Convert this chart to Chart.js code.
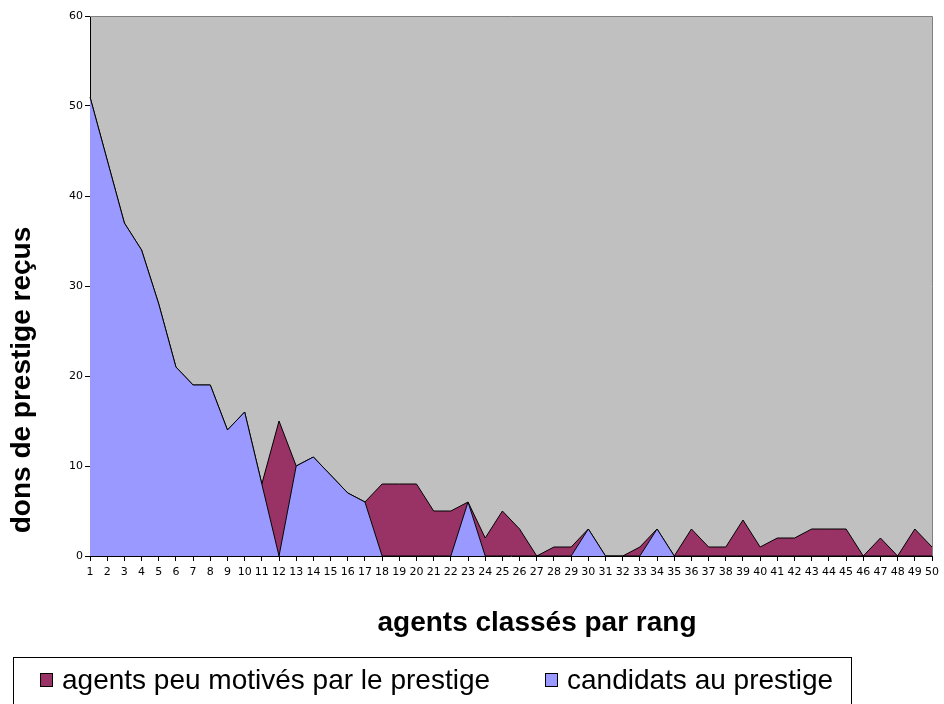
<!DOCTYPE html>
<html>
<head>
<meta charset="utf-8">
<script src="https://cdn.jsdelivr.net/npm/chart.js@4/dist/chart.umd.min.js"></script>
<style>
  html, body { margin: 0; padding: 0; background: #fff; }
  #wrap { width: 944px; height: 704px; }
</style>
</head>
<body>
<div id="wrap"><canvas id="dons" width="944" height="704"></canvas></div>
<script>
// rangs 1..50
var rangs = [];
for (var i = 1; i <= 50; i++) rangs.push(String(i));

// dons reçus par les candidats au prestige (0 pour les autres agents)
var candidats = [51, 44, 37, 34, 28, 21, 19, 19, 14, 16, 8,
    0,
    10, 11, 9, 7, 6,
    0, 0, 0, 0, 0,
    6,
    0, 0, 0, 0, 0, 0,
    3,
    0, 0, 0,
    3,
    0, 0, 0, 0, 0, 0, 0, 0, 0, 0, 0, 0, 0, 0, 0, 0];

// dons reçus par les agents peu motivés (0 pour les candidats)
var peuMotives = [0, 0, 0, 0, 0, 0, 0, 0, 0, 0, 0,
    15,
    0, 0, 0, 0, 0,
    8, 8, 8, 5, 5, 0, 2, 5, 3, 0, 1, 1, 0, 0, 0, 1, 0, 0,
    3, 1, 1, 4, 1, 2, 2, 3, 3, 3, 0, 2, 0, 3, 1];

var yTicks = [0, 10, 20, 30, 40, 50, 60];

const bleu = "#9999FF";
const bordeaux = "#993366";

// fond gris, bords du graphique, titres et légende
var decor = {
    id: 'decor',
    beforeDraw: function(chart) {
        var a = chart.chartArea;
        var ctx = chart.ctx;
        ctx.save();
        ctx.fillStyle = "#C0C0C0";
        ctx.fillRect(a.left, a.top, a.right - a.left, a.bottom - a.top);
        ctx.restore();
    },
    afterDraw: function(chart) {
        var a = chart.chartArea;
        var ctx = chart.ctx;
        ctx.save();
        ctx.strokeStyle = "#808080";
        ctx.lineWidth = 1;
        ctx.beginPath();
        ctx.moveTo(a.left, a.top + 0.5);
        ctx.lineTo(a.right + 0.5, a.top + 0.5);
        ctx.lineTo(a.right + 0.5, a.bottom);
        ctx.stroke();

        ctx.fillStyle = "#000";
        ctx.font = "bold 28px 'Liberation Sans', Arial, sans-serif";
        ctx.textAlign = "center";
        ctx.textBaseline = "middle";
        ctx.fillText("agents classés par rang", 537, 623);

        ctx.save();
        ctx.translate(22, 380);
        ctx.rotate(-Math.PI / 2);
        ctx.fillText("dons de prestige reçus", 0, 0);
        ctx.restore();

        // légende
        ctx.strokeStyle = "#000";
        ctx.strokeRect(13.5, 657.5, 838, 60);
        var items = [
            { x: 40, color: bordeaux, text: "agents peu motivés par le prestige" },
            { x: 545, color: bleu, text: "candidats au prestige" }
        ];
        ctx.font = "28px 'Liberation Sans', Arial, sans-serif";
        ctx.textAlign = "left";
        items.forEach(function(it) {
            ctx.fillStyle = it.color;
            ctx.fillRect(it.x, 673, 13, 14);
            ctx.strokeRect(it.x + 0.5, 673.5, 12, 13);
            ctx.fillStyle = "#000";
            ctx.fillText(it.text, it.x + 22, 681);
        });
        ctx.restore();
    }
};

var ctx = document.getElementById('dons').getContext('2d');
var chart = new Chart(ctx, {
    type: 'line',
    data: {
        labels: rangs,
        datasets: [{
                label: 'candidats au prestige',
                data: candidats,
                backgroundColor: bleu,
                borderColor: "#000",
                borderWidth: 1,
                pointRadius: 0,
                tension: 0,
                fill: 'origin'
            },
            {
                label: 'agents peu motivés par le prestige',
                data: peuMotives,
                backgroundColor: bordeaux,
                borderColor: "#000",
                borderWidth: 1,
                pointRadius: 0,
                tension: 0,
                fill: '-1'
            }
        ]
    },
    options: {
        responsive: false,
        animation: false,
        layout: { padding: { top: 16, right: 9, left: 0, bottom: 0 } },
        plugins: {
            legend: { display: false },
            tooltip: { enabled: false }
        },
        scales: {
            x: {
                offset: false,
                grid: { drawOnChartArea: false, color: "#000", tickLength: 5 },
                border: { color: "#000" },
                ticks: {
                    autoSkip: false,
                    maxRotation: 0,
                    minRotation: 0,
                    padding: 5,
                    color: "#000",
                    font: { family: "'DejaVu Sans'", size: 11 }
                },
                afterFit: function(s) { s.height = 148; }
            },
            y: {
                stacked: true,
                min: 0,
                max: 60,
                afterBuildTicks: function(s) {
                    s.ticks = yTicks.map(function(v) { return { value: v }; });
                },
                grid: { drawOnChartArea: false, color: "#000", tickLength: 5 },
                border: { color: "#000" },
                ticks: {
                    padding: 2,
                    color: "#000",
                    font: { family: "'DejaVu Sans'", size: 11 }
                },
                afterFit: function(s) { s.width = 90; }
            }
        }
    },
    plugins: [decor]
});
</script>
</body>
</html>
